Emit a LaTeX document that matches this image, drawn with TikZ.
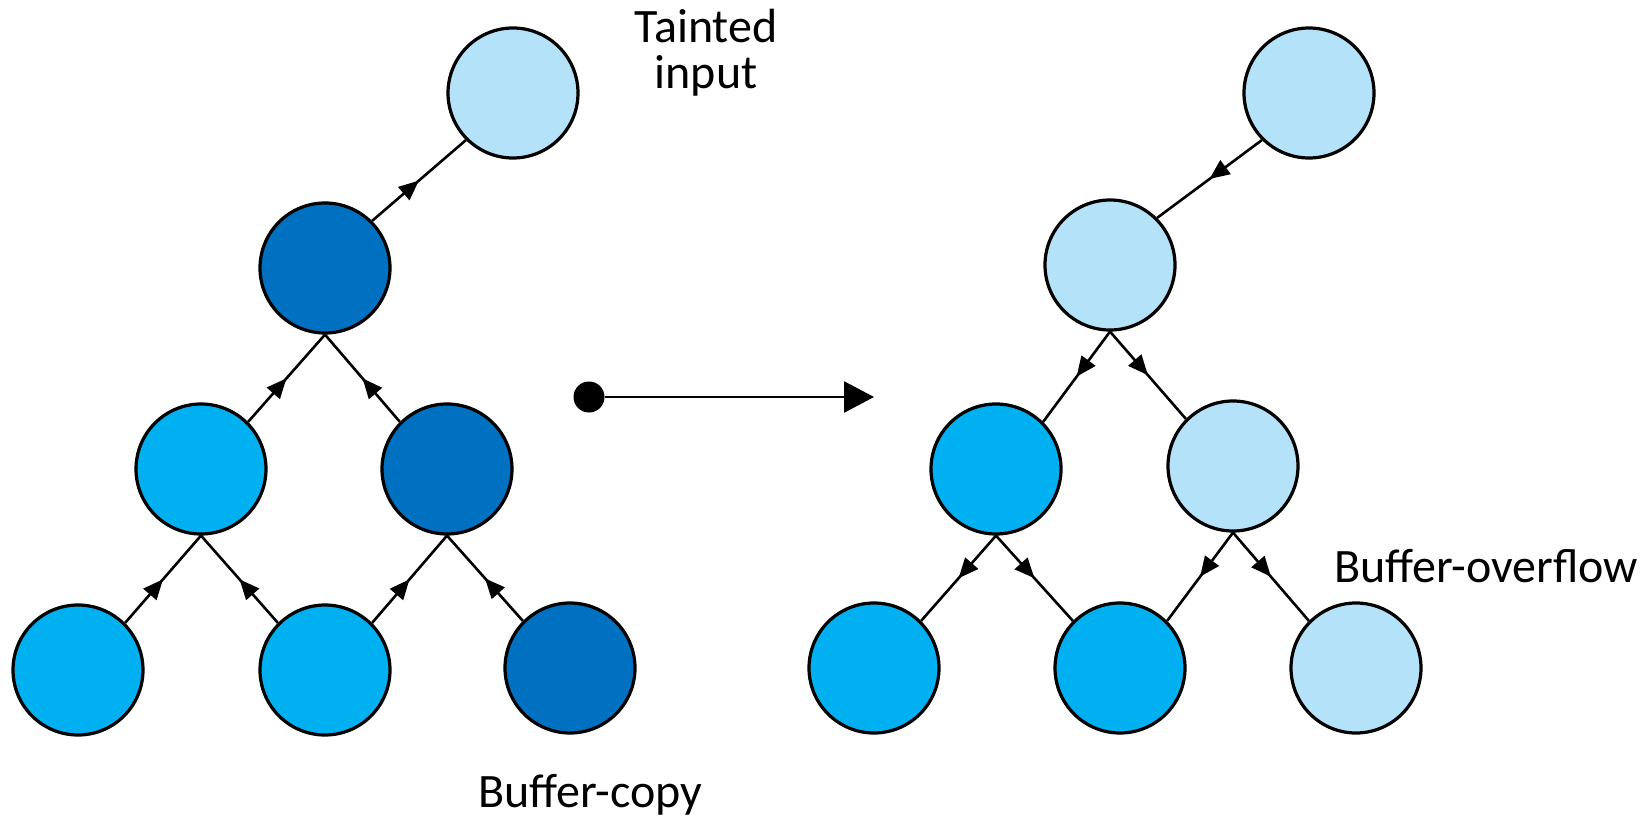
\documentclass[tikz,border=0pt]{standalone}
\usepackage{fontspec}
\setmainfont{Carlito}
\usetikzlibrary{arrows.meta,decorations.markings}
\definecolor{taintdark}{HTML}{0070C0}
\definecolor{taintmid}{HTML}{00B0F0}
\definecolor{taintlight}{HTML}{B4E3F9}
\begin{document}
\begin{tikzpicture}[x=1pt,y=-1pt,
  vertex/.style={circle,draw=black,line width=3.2pt,minimum size=130pt,inner sep=0pt},
  darkv/.style={vertex,fill=taintdark},
  midv/.style={vertex,fill=taintmid},
  lightv/.style={vertex,fill=taintlight},
  flow/.style={line width=2.6pt,postaction={decorate},
    decoration={markings,mark=at position 0.5 with {\arrow{Triangle[length=20pt,width=17pt]}}}},
  lbl/.style={font=\fontsize{48}{48}\selectfont,inner sep=0pt}]
\useasboundingbox (0,0) rectangle (1652,821);

% left tree: taint propagates upwards
\node[lightv] (l0) at (513,93) {};
\node[darkv]  (l1) at (325,268) {};
\node[midv]   (l2a) at (201,469) {};
\node[darkv]  (l2b) at (447,469) {};
\node[midv]   (l3a) at (78,670) {};
\node[midv]   (l3b) at (325,670) {};
\node[darkv]  (l3c) at (570,668) {};

\draw[flow] (l1.45) -- (l0.-135);
\draw[flow] (l2a.45) -- (l1.south);
\draw[flow] (l2b.135) -- (l1.south);
\draw[flow] (l3a.45) -- (l2a.south);
\draw[flow] (l3b.135) -- (l2a.south);
\draw[flow] (l3b.45) -- (l2b.south);
\draw[flow] (l3c.135) -- (l2b.south);

% right tree: taint propagates downwards
\node[lightv] (r0) at (1309,93) {};
\node[lightv] (r1) at (1110,265) {};
\node[midv]   (r2a) at (996,469) {};
\node[lightv] (r2b) at (1233,466) {};
\node[midv]   (r3a) at (874,668) {};
\node[midv]   (r3b) at (1120,668) {};
\node[lightv] (r3c) at (1356,668) {};

\draw[flow] (r0.-135) -- (r1.45);
\draw[flow] (r1.south) -- (r2a.45);
\draw[flow] (r1.south) -- (r2b.135);
\draw[flow] (r2a.south) -- (r3a.45);
\draw[flow] (r2a.south) -- (r3b.135);
\draw[flow] (r2b.south) -- (r3b.45);
\draw[flow] (r2b.south) -- (r3c.135);

% transition arrow
\node[circle,fill=black,minimum size=31pt,inner sep=0pt] (dot) at (589,397) {};
\coordinate (tip) at (874,397);
\draw[line width=2.7pt,-{Triangle[length=30pt,width=31pt]}] (dot) -- (tip);

% labels
\node[lbl,anchor=base] (t1) at (706,43) {Tainted};
\node[lbl,anchor=base] (t2) at (706,89) {input};
\node[lbl,anchor=base west] (bc) at (478,807) {Buffer-copy};
\node[lbl,anchor=base west] (bo) at (1334,582) {Buffer-overflow};
\end{tikzpicture}
\end{document}
